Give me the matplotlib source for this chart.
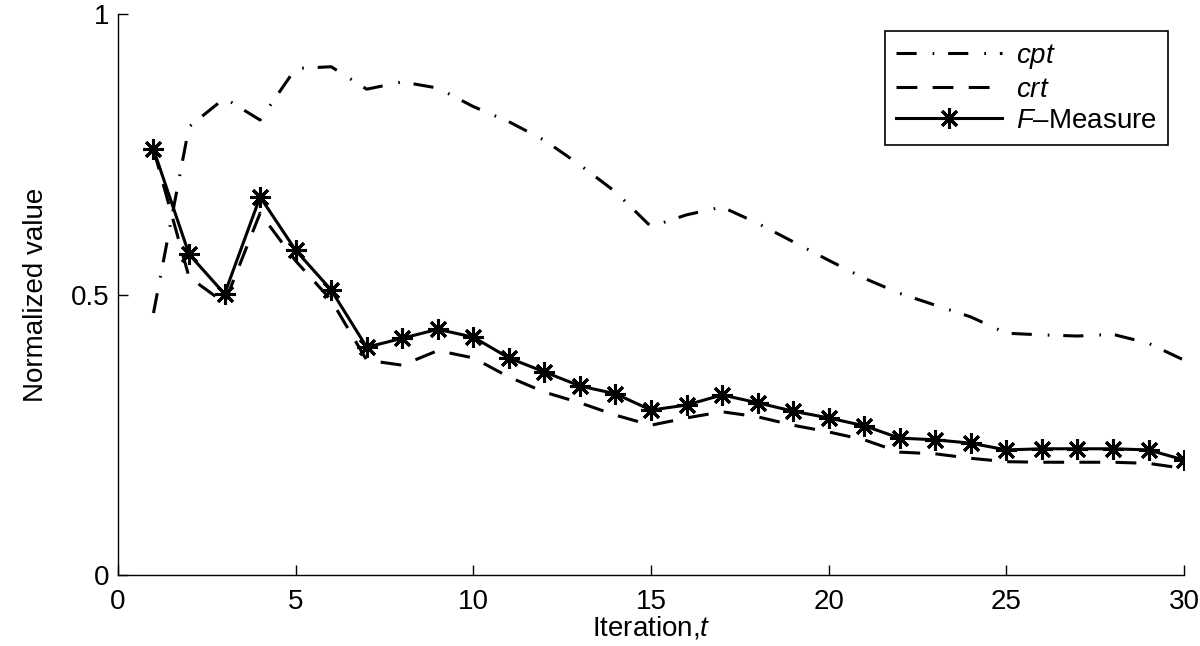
"""cpt / crt / F-Measure 반복 곡선 (MATLAB 스타일 재현)."""

import matplotlib
matplotlib.use("Agg")
import matplotlib.pyplot as plt

plt.rcParams["font.family"] = ["Liberation Sans", "DejaVu Sans"]
plt.rcParams["mathtext.fontset"] = "custom"
plt.rcParams["mathtext.rm"] = "Liberation Sans"
plt.rcParams["mathtext.it"] = "Liberation Sans:italic"
plt.rcParams["lines.scale_dashes"] = False

# ── 데이터 ────────────────────────────────────────────────────────────────
iterations = list(range(1, 31))

cpt = [0.467, 0.799, 0.850, 0.811, 0.903, 0.906, 0.866, 0.879, 0.868, 0.835,
       0.808, 0.775, 0.731, 0.683, 0.621, 0.642, 0.656, 0.627, 0.594, 0.561,
       0.529, 0.502, 0.481, 0.460, 0.431, 0.428, 0.426, 0.429, 0.413, 0.383]

crt = [0.759, 0.531, 0.485, 0.645, 0.560, 0.490, 0.383, 0.374, 0.400, 0.387,
       0.353, 0.326, 0.307, 0.285, 0.267, 0.280, 0.291, 0.282, 0.267, 0.255,
       0.241, 0.219, 0.216, 0.208, 0.202, 0.201, 0.201, 0.201, 0.199, 0.190]

f_measure = [0.759, 0.572, 0.501, 0.674, 0.579, 0.508, 0.406, 0.422, 0.438, 0.424,
             0.387, 0.362, 0.337, 0.323, 0.294, 0.303, 0.321, 0.307, 0.292, 0.280,
             0.266, 0.244, 0.241, 0.235, 0.223, 0.225, 0.225, 0.225, 0.223, 0.205]

x_ticks = [0, 5, 10, 15, 20, 25, 30]
y_ticks = [0, 0.5, 1]
y_tick_labels = ["0", "0.5", "1"]

# ── 그림 ──────────────────────────────────────────────────────────────────
fig = plt.figure(figsize=(12, 6.46), dpi=100)
ax = fig.add_axes([0.0983, 0.1099, 0.8884, 0.8684])

ax.plot(iterations, cpt, color="black", lw=2.2,
        dashes=(14.5, 11.5, 1.2, 10), label="$cpt$")
ax.plot(iterations, crt, color="black", lw=2.2,
        dashes=(15, 11), label="$crt$")
ax.plot(iterations, f_measure, color="black", lw=2.2, linestyle="-",
        marker=(8, 2, 0), markersize=15, markeredgewidth=2.2,
        label="$F$–Measure")

ax.set_xlim(0, 30)
ax.set_ylim(0, 1)
ax.set_xticks(x_ticks)
ax.set_yticks(y_ticks)
ax.set_yticklabels(y_tick_labels)
ax.tick_params(direction="in", length=7, width=1, labelsize=20)
ax.tick_params(axis="x", pad=10)
ax.tick_params(axis="y", pad=6)
ax.spines["top"].set_visible(False)
ax.spines["right"].set_visible(False)
for s in ("left", "bottom"):
    ax.spines[s].set_linewidth(1.0)

ax.set_xlabel("Iteration,$t$", fontsize=20, labelpad=0)
ax.set_ylabel("Normalized value", fontsize=20, labelpad=16)

leg = ax.legend(loc="upper right", bbox_to_anchor=(0.985, 0.97),
                borderaxespad=0, fontsize=20, handlelength=3.8,
                handletextpad=0.5, labelspacing=0.2, fancybox=False,
                framealpha=1, edgecolor="black", borderpad=0.4)
leg.get_frame().set_linewidth(1.2)

plt.savefig("out.png", dpi=100)
plt.close()
